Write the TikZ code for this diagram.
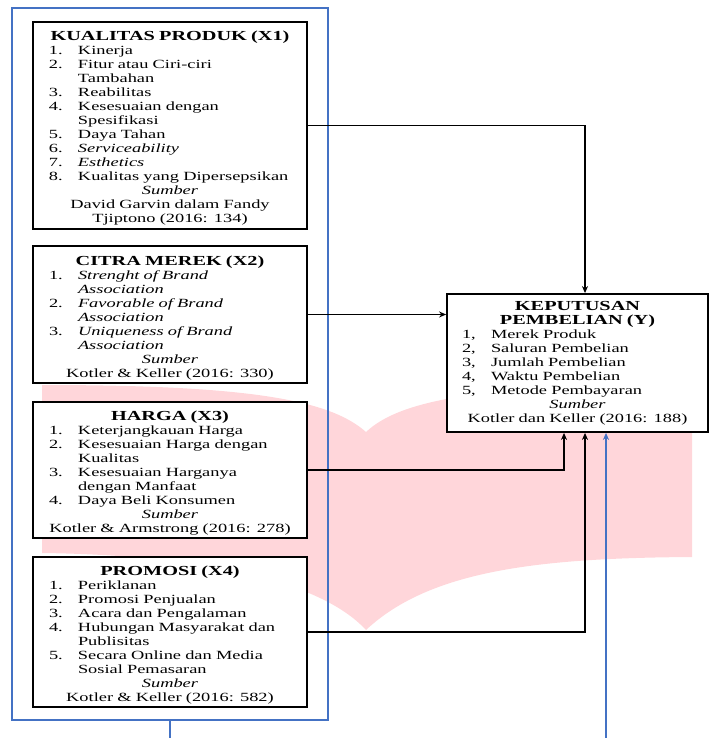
\documentclass[tikz,border=0pt]{standalone}
\usepackage{fontspec}
\setmainfont{Liberation Serif}[FakeStretch=1.47]
\usetikzlibrary{arrows.meta}
\definecolor{pinkwm}{RGB}{255,214,218}
\definecolor{wordblue}{RGB}{68,114,196}
\newcommand{\ttl}[2][0pt]{{\centering\fontsize{13.8}{14}\selectfont\bfseries\rule{0pt}{#1}#2\par}}
\newcommand{\itm}[3][16pt]{\noindent\hspace*{#1}\makebox[29pt][l]{#2}#3\par}
\newcommand{\srcline}[1]{{\centering #1\par}}
\begin{document}
\begin{tikzpicture}[x=1pt,y=-1pt,
  varbox/.style={draw=black, line width=1.8pt, fill=white, inner sep=0pt,
     minimum width=274pt, text width=274pt,
     font={\fontsize{12.5}{14}\selectfont\parindent=0pt}},
  grpbox/.style={draw=wordblue, line width=2pt, inner sep=0pt,
     minimum width=316pt, minimum height=712pt},
  conn/.style={draw=black, line width=1.6pt, -{Stealth[length=7pt,width=6pt]}},
  bconn/.style={draw=wordblue, line width=2pt, -{Stealth[length=7pt,width=6pt]}},
  bstub/.style={draw=wordblue, line width=2pt}]
\useasboundingbox (0,0) rectangle (709,738);
% watermark
\fill[pinkwm] (42,385) .. controls (250,385) and (330,400) .. (366,432)
  .. controls (400,400) and (480,385) .. (692,383) -- (692,557)
  .. controls (540,558) and (430,570) .. (366,630)
  .. controls (320,580) and (200,555) .. (42,553) -- cycle;
% group frame
\node[grpbox] (grp) at (170,364) {};
% variable boxes
\node[varbox, minimum height=207pt] (x1) at (170,125.5) {%
\ttl[14pt]{KUALITAS PRODUK (X1)}
\itm{1.}{Kinerja}
\itm{2.}{Fitur atau Ciri-ciri}
\itm{}{Tambahan}
\itm{3.}{Reabilitas}
\itm{4.}{Kesesuaian dengan}
\itm{}{Spesifikasi}
\itm{5.}{Daya Tahan}
\itm{6.}{\textit{Serviceability}}
\itm{7.}{\textit{Esthetics}}
\itm{8.}{Kualitas yang Dipersepsikan}
\srcline{\textit{Sumber}}
\srcline{David Garvin dalam Fandy}
\srcline{Tjiptono (2016: 134)}};
\node[varbox, minimum height=137pt] (x2) at (170,314.5) {%
\ttl[16pt]{CITRA MEREK (X2)}
\itm{1.}{\textit{Strenght of Brand}}
\itm{}{\textit{Association}}
\itm{2.}{\textit{Favorable of Brand}}
\itm{}{\textit{Association}}
\itm{3.}{\textit{Uniqueness of Brand}}
\itm{}{\textit{Association}}
\srcline{\textit{Sumber}}
\srcline{Kotler \& Keller (2016: 330)}};
\node[varbox, minimum height=136pt] (x3) at (170,470) {%
\ttl[16pt]{HARGA (X3)}
\itm{1.}{Keterjangkauan Harga}
\itm{2.}{Kesesuaian Harga dengan}
\itm{}{Kualitas}
\itm{3.}{Kesesuaian Harganya}
\itm{}{dengan Manfaat}
\itm{4.}{Daya Beli Konsumen}
\srcline{\textit{Sumber}}
\srcline{Kotler \& Armstrong (2016: 278)}};
\node[varbox, minimum height=150pt] (x4) at (170,632) {%
\ttl[16pt]{PROMOSI (X4)}
\itm{1.}{Periklanan}
\itm{2.}{Promosi Penjualan}
\itm{3.}{Acara dan Pengalaman}
\itm{4.}{Hubungan Masyarakat dan}
\itm{}{Publisitas}
\itm{5.}{Secara Online dan Media}
\itm{}{Sosial Pemasaran}
\srcline{\textit{Sumber}}
\srcline{Kotler \& Keller (2016: 582)}};
\node[varbox, minimum width=261pt, text width=261pt, minimum height=138pt] (y) at (577.5,363) {%
\ttl{KEPUTUSAN}
\ttl{PEMBELIAN (Y)}
\itm[15pt]{1,}{Merek Produk}
\itm[15pt]{2,}{Saluran Pembelian}
\itm[15pt]{3,}{Jumlah Pembelian}
\itm[15pt]{4,}{Waktu Pembelian}
\itm[15pt]{5,}{Metode Pembayaran}
\srcline{\textit{Sumber}}
\srcline{Kotler dan Keller (2016: 188)}};
% bend columns and free ends
\coordinate (c1) at (585,0);
\coordinate (c3) at (564,0);
\coordinate (bin) at (606,738);
\coordinate (bout) at (170,738);
% connectors
\draw[conn] (x1.east) -| (y.north -| c1);
\draw[conn] (x2.east) -- (x2.east -| y.west);
\draw[conn] (x3.east) -| (y.south -| c3);
\draw[conn] (x4.east) -| (y.south -| c1);
\draw[bconn] (bin) -- (y.south -| bin);
\draw[bstub] (grp.south) -- (bout);
\end{tikzpicture}
\end{document}
